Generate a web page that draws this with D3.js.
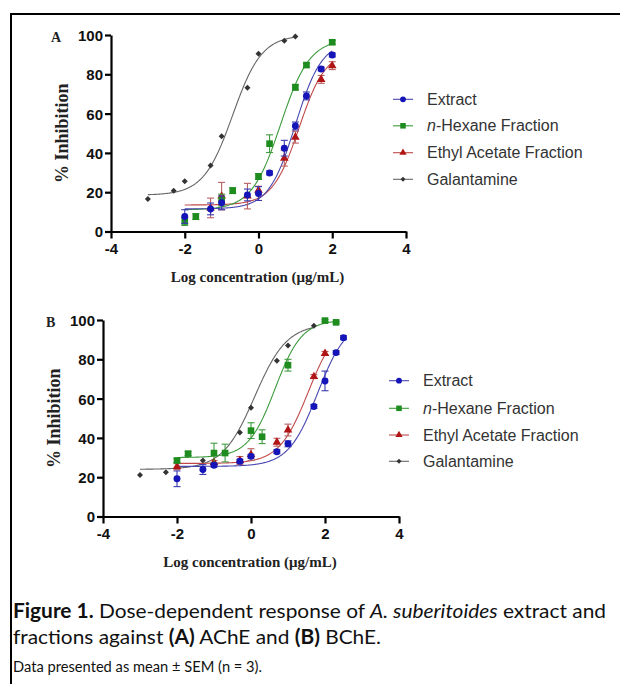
<!DOCTYPE html>
<html><head><meta charset="utf-8">
<script src="https://cdn.jsdelivr.net/npm/d3@7"></script>
<style>body{margin:0;background:#fff}</style>
</head><body>
<svg id="c" width="620" height="684" xmlns="http://www.w3.org/2000/svg"></svg>
<script>
// ---------- data ----------
const seriesNames = ["Extract", "n-Hexane Fraction", "Ethyl Acetate Fraction", "Galantamine"];
const xTicks = [-4, -2, 0, 2, 4];
const yTicks = [0, 20, 40, 60, 80, 100];

// Panel A (AChE)
const A_extract_x = [-2, -1.3, -1, -0.3, 0, 0.3, 0.7, 1, 1.3, 1.7, 2];
const A_extract_y = [7.6, 11.5, 14.6, 18.6, 19.3, 29.8, 42.4, 53.7, 69, 82.7, 89.8];
const A_extract_e = [3.5, 3, 3.5, 3, 3.5, 1, 4, 2, 2, 1, 1];
const A_hexane_x = [-2, -1.7, -1, -0.7, 0, 0.3, 1, 1.3, 2];
const A_hexane_y = [5.1, 7.6, 16, 20.8, 28, 44.7, 73.4, 84.7, 96.3];
const A_hexane_e = [2, 1.5, 3, 1.5, 1.5, 4.5, 1.5, 1, 1];
const A_ethyl_x = [-1.3, -1, -0.3, 0, 0.7, 1, 1.7, 2];
const A_ethyl_y = [12, 18, 18, 21, 37.3, 48, 77.4, 84.4];
const A_ethyl_e = [5, 7, 6.5, 2, 4, 3, 2, 2];
const A_galant_x = [-3, -2.3, -2, -1.3, -1, -0.3, 0, 0.7, 1];
const A_galant_y = [16.6, 20.8, 25.6, 33.6, 48.5, 73.2, 90.5, 97.1, 99.2];
const A_galant_e = [0, 0, 0, 0, 0, 0, 0, 0, 0];
// fitted 4PL parameters (extract, hexane, ethyl, galantamine)
const A_fitBottom = [11.5, 11, 13.5, 18.5];
const A_fitTop = [97, 98, 92, 100];
const A_fitLogEC50 = [1.0, 0.6, 1.1, -0.7];
const A_fitHill = [1.2, 1.1, 1.2, 1.1];
const A_fitFrom = [-2, -2, -2, -3];
const A_fitTo = [2, 2, 2, 1];

// Panel B (BChE)
const B_extract_x = [-2, -1.3, -1, -0.3, 0, 0.7, 1, 1.7, 2, 2.3, 2.5];
const B_extract_y = [19.2, 23.9, 26.1, 28.1, 30.6, 33, 37, 56, 69, 83.4, 91];
const B_extract_e = [4, 2.5, 1, 1, 1, 1, 1.5, 1, 5, 1, 1];
const B_hexane_x = [-2, -1.7, -1, -0.7, 0, 0.3, 1, 2, 2.3];
const B_hexane_y = [28.5, 32, 32.3, 32.3, 43.7, 40.6, 77, 99.7, 98.8];
const B_hexane_e = [1, 1, 5, 4.5, 4, 3.5, 3, 0.5, 0.5];
const B_ethyl_x = [-2, -1, -0.3, 0, 0.7, 1, 1.7, 2];
const B_ethyl_y = [25.4, 27.5, 28.5, 31.5, 37.8, 44, 71.2, 83];
const B_ethyl_e = [1.5, 1, 2, 3, 2, 3, 1, 1];
const B_galant_x = [-3, -2.3, -1.3, -0.3, 0, 0.7, 1, 1.7];
const B_galant_y = [21.1, 22.5, 28.5, 42.7, 55.4, 79.2, 87, 97.1];
const B_galant_e = [0, 0, 0, 0, 0, 0, 0, 0];
const B_fitBottom = [25.5, 30, 27, 24];
const B_fitTop = [100, 100, 100, 98];
const B_fitLogEC50 = [1.8, 0.65, 1.55, 0.1];
const B_fitHill = [1.1, 1.2, 1.1, 1.0];
const B_fitFrom = [-2, -2, -2, -3];
const B_fitTo = [2.5, 2.3, 2, 1.7];

// ---------- styles ----------
const markColor = ["#1414b8", "#1e8c1e", "#b01414", "#333333"];
const lineColor = ["#4848b0", "#3d9b3d", "#c04a4a", "#666666"];
const errColor = ["#3a3ab0", "#3d9b3d", "#b86060", "#555555"];
const symbols = [d3.symbolCircle, d3.symbolSquare, d3.symbolTriangle, d3.symbolSquare];
const symSize = [38, 44, 32, 18];
const symRot = [0, 0, 0, 45];

const svg = d3.select("#c");
svg.append("rect").attr("width", 620).attr("height", 684).attr("fill", "#fff");
// frame
svg.append("line").attr("x1", 11).attr("x2", 11).attr("y1", 13).attr("y2", 684).attr("stroke", "#000").attr("stroke-width", 2);
svg.append("line").attr("x1", 10).attr("x2", 620).attr("y1", 14).attr("y2", 14).attr("stroke", "#000").attr("stroke-width", 2);

function drawPanel(cfg) {
  const x = d3.scaleLinear().domain([-4, 4]).range(cfg.xr);
  const y = d3.scaleLinear().domain([0, 100]).range(cfg.yr);
  const g = svg.append("g");

  // axes
  const ax = g.append("g").attr("transform", `translate(0,${cfg.yr[0]})`)
    .call(d3.axisBottom(x).tickValues(xTicks).tickSize(7).tickSizeOuter(0).tickPadding(5).tickFormat(d => String(d)));
  const ay = g.append("g").attr("transform", `translate(${cfg.xr[0]},0)`)
    .call(d3.axisLeft(y).tickValues(yTicks).tickSize(6).tickSizeOuter(0).tickPadding(2).tickFormat(d => String(d)));
  [ax, ay].forEach(a => {
    a.select(".domain").attr("stroke", "#000").attr("stroke-width", 2.2);
    a.selectAll(".tick line").attr("stroke", "#000").attr("stroke-width", 2.2);
    a.selectAll(".tick text").attr("fill", "#111").attr("font-family", "Liberation Sans, Arial, sans-serif")
      .attr("font-weight", "bold").attr("font-size", 15);
  });
  ay.selectAll(".tick text").attr("dy", "0.36em");

  // axis titles
  g.append("text").attr("x", (cfg.xr[0] + cfg.xr[1]) / 2 - 1).attr("y", cfg.yr[0] + 50)
    .attr("text-anchor", "middle").attr("font-family", "Liberation Serif, Times New Roman, serif")
    .attr("font-weight", "bold").attr("font-size", 15).attr("fill", "#222")
    .text("Log concentration (μg/mL)");
  g.append("text").attr("transform", `translate(${cfg.xr[0] - 43},${(cfg.yr[0] + cfg.yr[1]) / 2}) rotate(-90)`)
    .attr("text-anchor", "middle").attr("font-family", "Liberation Serif, Times New Roman, serif")
    .attr("font-weight", "bold").attr("font-size", 18).attr("fill", "#222")
    .text("% Inhibition");
  g.append("text").attr("x", cfg.labelPos[0]).attr("y", cfg.labelPos[1])
    .attr("font-family", "Liberation Serif, Times New Roman, serif").attr("font-weight", "bold")
    .attr("font-size", 14).attr("fill", "#222").text(cfg.label);

  const line = d3.line().x(d => x(d[0])).y(d => y(d[1]));
  const order = [3, 2, 1, 0];
  // fitted curves
  order.forEach(i => {
    const pts = [];
    const n = 200;
    for (let k = 0; k <= n; k++) {
      const lx = cfg.fitFrom[i] + (cfg.fitTo[i] - cfg.fitFrom[i]) * k / n;
      const v = cfg.fitBottom[i] + (cfg.fitTop[i] - cfg.fitBottom[i]) /
        (1 + Math.pow(10, cfg.fitHill[i] * (cfg.fitLogEC50[i] - lx)));
      pts.push([lx, v]);
    }
    g.append("path").attr("d", line(pts)).attr("fill", "none")
      .attr("stroke", lineColor[i]).attr("stroke-width", 1.1);
  });
  // error bars + markers
  order.forEach(i => {
    const s = cfg.series[i];
    const data = s.x.map((v, k) => ({ x: v, y: s.y[k], e: s.e[k] }));
    const eb = g.append("g").attr("stroke", errColor[i]).attr("stroke-width", 1.1);
    data.filter(d => d.e > 0).forEach(d => {
      eb.append("line").attr("x1", x(d.x)).attr("x2", x(d.x)).attr("y1", y(d.y - d.e)).attr("y2", y(d.y + d.e));
      eb.append("line").attr("x1", x(d.x) - 3.5).attr("x2", x(d.x) + 3.5).attr("y1", y(d.y + d.e)).attr("y2", y(d.y + d.e));
      eb.append("line").attr("x1", x(d.x) - 3.5).attr("x2", x(d.x) + 3.5).attr("y1", y(d.y - d.e)).attr("y2", y(d.y - d.e));
    });
    g.append("g").selectAll("path").data(data).join("path")
      .attr("d", d3.symbol().type(symbols[i]).size(symSize[i]))
      .attr("transform", d => `translate(${x(d.x)},${y(d.y)}) rotate(${symRot[i]})`)
      .attr("fill", markColor[i]);
  });

  // legend
  const lg = g.append("g");
  seriesNames.forEach((name, i) => {
    const ly = cfg.legY[i];
    lg.append("line").attr("x1", cfg.legX - 10).attr("x2", cfg.legX + 10).attr("y1", ly).attr("y2", ly)
      .attr("stroke", lineColor[i]).attr("stroke-width", 1.1);
    lg.append("path").attr("d", d3.symbol().type(symbols[i]).size(symSize[i] * 0.7))
      .attr("transform", `translate(${cfg.legX},${ly}) rotate(${symRot[i]})`).attr("fill", markColor[i]);
    const t = lg.append("text").attr("x", cfg.legX + 24).attr("y", ly + 5.5)
      .attr("font-family", "Liberation Sans, Arial, sans-serif").attr("font-size", 16).attr("fill", "#333");
    if (name.startsWith("n-")) {
      t.append("tspan").attr("font-style", "italic").text("n");
      t.append("tspan").text(name.slice(1));
    } else t.text(name);
  });
}

drawPanel({
  xr: [111, 406], yr: [231.5, 35], label: "A", labelPos: [51, 42],
  series: [
    { x: A_extract_x, y: A_extract_y, e: A_extract_e },
    { x: A_hexane_x, y: A_hexane_y, e: A_hexane_e },
    { x: A_ethyl_x, y: A_ethyl_y, e: A_ethyl_e },
    { x: A_galant_x, y: A_galant_y, e: A_galant_e }],
  fitBottom: A_fitBottom, fitTop: A_fitTop, fitLogEC50: A_fitLogEC50, fitHill: A_fitHill,
  fitFrom: A_fitFrom, fitTo: A_fitTo,
  legX: 403, legY: [99.3, 125.8, 152.7, 179.3]
});
drawPanel({
  xr: [103, 399], yr: [516.5, 320], label: "B", labelPos: [46, 327],
  series: [
    { x: B_extract_x, y: B_extract_y, e: B_extract_e },
    { x: B_hexane_x, y: B_hexane_y, e: B_hexane_e },
    { x: B_ethyl_x, y: B_ethyl_y, e: B_ethyl_e },
    { x: B_galant_x, y: B_galant_y, e: B_galant_e }],
  fitBottom: B_fitBottom, fitTop: B_fitTop, fitLogEC50: B_fitLogEC50, fitHill: B_fitHill,
  fitFrom: B_fitFrom, fitTo: B_fitTo,
  legX: 399, legY: [380.7, 408.3, 435, 461.3]
});

// caption
const capFont = "Lato, 'Open Sans', sans-serif";
const c1 = svg.append("text").attr("x", 13).attr("y", 618).attr("font-family", capFont).attr("font-size", 20)
  .attr("fill", "#111").attr("textLength", 593).attr("lengthAdjust", "spacingAndGlyphs");
c1.append("tspan").attr("font-weight", "bold").text("Figure 1.");
c1.append("tspan").text(" Dose-dependent response of ");
c1.append("tspan").attr("font-style", "italic").text("A. suberitoides");
c1.append("tspan").text(" extract and");
const c2 = svg.append("text").attr("x", 13).attr("y", 644).attr("font-family", capFont).attr("font-size", 20)
  .attr("fill", "#111").attr("textLength", 368).attr("lengthAdjust", "spacingAndGlyphs");
c2.append("tspan").text("fractions against ");
c2.append("tspan").attr("font-weight", "bold").text("(A)");
c2.append("tspan").text(" AChE and ");
c2.append("tspan").attr("font-weight", "bold").text("(B)");
c2.append("tspan").text(" BChE.");
svg.append("text").attr("x", 13).attr("y", 672).attr("font-family", capFont).attr("font-size", 14.5)
  .attr("fill", "#111").attr("textLength", 249).attr("lengthAdjust", "spacingAndGlyphs")
  .text("Data presented as mean ± SEM (n = 3).");
</script>
</body></html>
